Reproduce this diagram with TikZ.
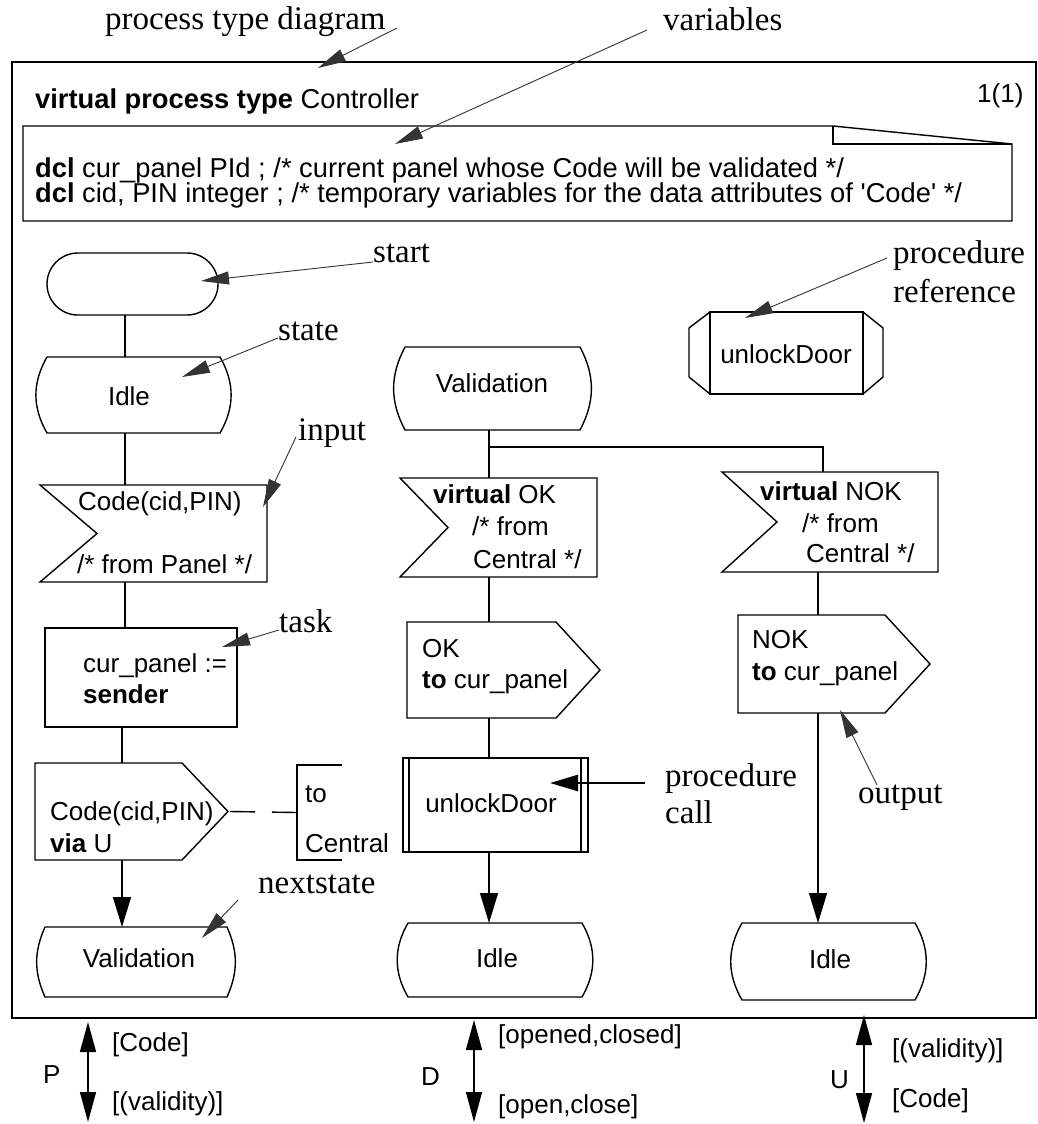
\documentclass[tikz,border=0pt]{standalone}
\usepackage{fontspec}
\setmainfont{Liberation Serif}
\setsansfont{Liberation Sans}
\usetikzlibrary{arrows.meta}

% SDL symbol outlines drawn around invisible nodes
\newcommand\statesym[2]{\draw[symline] (#1.north west) -- (#1.north east) to[bend left=#2] (#1.south east) -- (#1.south west) to[bend left=#2] (#1.north west);}
\newcommand\inputsym[2]{\draw[symline] (#1.north west) -- (#1.north east) -- (#1.south east) -- (#1.south west) -- ([xshift=#2]#1.west) -- cycle;}
\newcommand\outputsym[2]{\draw[symline] (#1.north west) -- ([xshift=-#2]#1.north east) -- (#1.east) -- ([xshift=-#2]#1.south east) -- (#1.south west) -- cycle;}

\begin{document}
\begin{tikzpicture}[x=1pt,y=-1pt,
  sym/.style 2 args={inner sep=0pt,outer sep=0pt,minimum width=#1,minimum height=#2},
  symline/.style={line width=1.4pt},
  flowarrow/.style={line width=1.4pt,-{Triangle[length=30pt,width=18pt]}},
  note/.style={line width=0.9pt,draw=black!80,-{Triangle[length=28pt,width=13pt]}},
  callnote/.style={line width=2.6pt,-{Triangle[length=28pt,width=16pt]}},
  chan/.style={line width=1.4pt,{Triangle[length=30pt,width=16pt]}-{Triangle[length=30pt,width=16pt]}},
  lbl/.style={font=\sffamily\fontsize{26}{26}\selectfont,inner sep=0pt,anchor=base west},
  lblw/.style={lbl,font=\sffamily\fontsize{27.3}{27}\selectfont},
  lblc/.style={lbl,anchor=base},
  ann/.style={font=\rmfamily\fontsize{33}{33}\selectfont,inner sep=0pt,anchor=base west}]
\useasboundingbox (0,0) rectangle (1038,1124);
\fill[white] (0,0) rectangle (1038,1124);

% diagram frame and heading
\node[sym={1024pt}{956pt},draw,line width=2pt] (frame) at (524,540) {};
\node[lblw] (title) at (35,108) {\textbf{virtual process type} Controller};
\node[lbl] (page) at (977,102) {1(1)};

% text symbol with declarations
\node[sym={989pt}{95pt}] (dcl) at (517.5,173.5) {};
\draw[symline] (dcl.north west) -- ([xshift=-179pt]dcl.north east) -- ([yshift=-18pt]dcl.north east) -- (dcl.south east) -- (dcl.south west) -- cycle;
\draw[symline] ([xshift=-179pt]dcl.north east) -- ++(0,18) -- ([yshift=-18pt]dcl.north east);
\node[lblw] (dclA) at (35,177) {\textbf{dcl} cur\_panel PId ; /* current panel whose Code will be validated */};
\node[lblw] (dclB) at (35,202) {\textbf{dcl} cid, PIN integer ; /* temporary variables for the data attributes of \textquotesingle Code\textquotesingle{} */};

% column guides
\coordinate (colA) at (125,0);
\coordinate (colAA) at (122,0);
\coordinate (colB) at (489,0);
\coordinate (colC) at (818,0);
\coordinate (colCb) at (823,0);

% left transition
\node[sym={171pt}{62pt},draw,symline,rounded corners=31pt] (start) at (132.5,284) {};
\node[sym={173pt}{76pt}] (idleA) at (133.5,395) {};
\statesym{idleA}{30}
\node[lblc] (idleAt) at (129,405) {Idle};

\node[sym={227pt}{97pt}] (inA) at (153.5,533.5) {};
\inputsym{inA}{57pt}
\node[lbl] (inAt1) at (78,510) {Code(cid,PIN)};
\node[lbl] (inAt2) at (77,573) {/* from Panel */};

\node[sym={192pt}{99pt},draw,symline] (task) at (141,677.5) {};
\node[lbl] (taskt1) at (83,672) {cur\_panel :=};
\node[lbl] (taskt2) at (83,703) {\textbf{sender}};

\node[sym={193pt}{97pt}] (outA) at (131.5,811.5) {};
\outputsym{outA}{46pt}
\node[lbl] (outAt1) at (50,820) {Code(cid,PIN)};
\node[lbl] (outAt2) at (50,852) {\textbf{via} U};

\node[sym={45pt}{95pt}] (cmt) at (319.5,812.5) {};
\draw[symline] (cmt.north east) -- (cmt.north west) -- (cmt.south west) -- (cmt.south east);
\node[lbl] (cmtt1) at (305,802) {to};
\node[lbl] (cmtt2) at (305,852) {Central};

\node[sym={182pt}{70pt}] (valA) at (136,962) {};
\statesym{valA}{24}
\node[lblc] (valAt) at (139,967) {Validation};

\draw[symline] (start.south -| colA) -- (idleA.north -| colA);
\draw[symline] (idleA.south -| colA) -- (inA.north -| colA);
\draw[symline] (inA.south -| colA) -- (task.north -| colA);
\draw[symline] (task.south -| colAA) -- (outA.north -| colAA);
\draw[flowarrow] (outA.south -| colAA) -- (valA.north -| colAA);
\draw[symline,dash pattern=on 25pt off 17pt] ([xshift=2pt]outA.east) -- (cmt.west);

% middle transition
\node[sym={175pt}{83pt}] (valB) at (492.5,388.5) {};
\statesym{valB}{28}
\node[lblc] (valBt) at (492,392) {Validation};

\node[sym={197pt}{99pt}] (inB) at (498.5,527.5) {};
\inputsym{inB}{48pt}
\node[lbl] (inBt1) at (433,503) {\textbf{virtual} OK};
\node[lbl] (inBt2) at (472,535) {/* from};
\node[lbl] (inBt3) at (473,568) {Central */};

\node[sym={193pt}{96pt}] (outB) at (503.5,670) {};
\outputsym{outB}{44pt}
\node[lbl] (outBt1) at (422,657) {OK};
\node[lbl] (outBt2) at (422,688) {\textbf{to} cur\_panel};

\node[sym={185pt}{94pt},draw,symline] (call) at (495.5,805) {};
\draw[symline] ([xshift=6pt]call.north west) -- ([xshift=6pt]call.south west);
\draw[symline] ([xshift=-7pt]call.north east) -- ([xshift=-7pt]call.south east);
\node[lblc] (callt) at (491,812) {unlockDoor};

\node[sym={174pt}{74pt}] (idleB) at (495,960) {};
\statesym{idleB}{30}
\node[lblc] (idleBt) at (497,967) {Idle};

% right transition and procedure reference
\node[sym={153pt}{82pt},draw,symline] (ref) at (786.5,353) {};
\draw[symline] (ref.north west) -- ++(-21,16) -- ++(0,49) -- (ref.south west);
\draw[symline] (ref.north east) -- ++(20,16) -- ++(0,49) -- (ref.south east);
\node[lblc] (reft) at (786,363) {unlockDoor};

\node[sym={216pt}{100pt}] (inC) at (830,522) {};
\inputsym{inC}{55pt}
\node[lbl] (inCt1) at (760,500) {\textbf{virtual} NOK};
\node[lbl] (inCt2) at (802,532) {/* from};
\node[lbl] (inCt3) at (806,562) {Central */};

\node[sym={192pt}{98pt}] (outC) at (834,664) {};
\outputsym{outC}{45pt}
\node[lbl] (outCt1) at (752,648) {NOK};
\node[lbl] (outCt2) at (752,680) {\textbf{to} cur\_panel};

\node[sym={173pt}{77pt}] (idleC) at (828.5,961.5) {};
\statesym{idleC}{30}
\node[lblc] (idleCt) at (830,968) {Idle};

% middle and right connectors
\coordinate (fork) at (489,447);
\draw[symline] (valB.south -| colB) -- (inB.north -| colB);
\draw[symline] (fork) -| (colCb |- inC.north);
\draw[symline] (inB.south -| colB) -- (outB.north -| colB);
\draw[symline] (outB.south -| colB) -- (call.north -| colB);
\draw[flowarrow] (call.south -| colB) -- (idleB.north -| colB);
\draw[symline] (inC.south -| colC) -- (outC.north -| colC);
\draw[flowarrow] (outC.south -| colC) -- (idleC.north -| colC);

% annotations
\node[ann] (aPtd) at (105,30) {process type diagram};
\coordinate (aPtdS) at (397,28); \coordinate (aPtdT) at (318,68);
\draw[note] (aPtdS) -- (aPtdT);
\node[ann] (aVar) at (663,31) {variables};
\coordinate (aVarS) at (647,30); \coordinate (aVarT) at (395,144);
\draw[note] (aVarS) -- (aVarT);
\node[ann] (aStart) at (373,262) {start};
\coordinate (aStartT) at (201,281);
\draw[note] (aStart.base west) -- (aStartT);
\node[ann] (aState) at (278,340) {state};
\coordinate (aStateT) at (182,377);
\draw[note] ([yshift=2pt]aState.base west) -- (aStateT);
\node[ann] (aInput) at (298,440) {input};
\coordinate (aInputS) at (296,437); \coordinate (aInputT) at (263,507);
\draw[note] (aInputS) -- (aInputT);
\node[ann] (aTask) at (279,632) {task};
\coordinate (aTaskT) at (222,647);
\draw[note] ([yshift=2pt]aTask.base west) -- (aTaskT);
\node[ann] (aNext) at (258,893) {nextstate};
\coordinate (aNextS) at (238,900); \coordinate (aNextT) at (202,938);
\draw[note] (aNextS) -- (aNextT);
\node[ann] (aRef1) at (893,263) {procedure};
\node[ann] (aRef2) at (893,302) {reference};
\coordinate (aRefS) at (887,258); \coordinate (aRefT) at (745,318);
\draw[note] (aRefS) -- (aRefT);
\node[ann] (aCall1) at (665,786) {procedure};
\node[ann] (aCall2) at (665,823) {call};
\coordinate (aCallS) at (645,783); \coordinate (aCallT) at (550,783);
\draw[callnote] (aCallS) -- (aCallT);
\node[ann] (aOut) at (858,803) {output};
\coordinate (aOutS) at (877,785); \coordinate (aOutT) at (840,710);
\draw[note] (aOutS) -- (aOutT);

% channels leaving the frame
\coordinate (chP) at (88,1122); \coordinate (chD) at (474,1122); \coordinate (chU) at (864,1123);
\draw[chan] (frame.south -| chP) ++(0,4) -- (chP);
\draw[chan] (frame.south -| chD) ++(0,2) -- (chD);
\draw[chan] (frame.south -| chU) ++(0,-3) -- (chU);
\node[lbl] (pP) at (43,1083) {P};
\node[lbl] (pP1) at (112,1051) {[Code]};
\node[lbl] (pP2) at (112,1110) {[(validity)]};
\node[lbl] (pD) at (421,1085) {D};
\node[lbl] (pD1) at (498,1043) {[opened,closed]};
\node[lbl] (pD2) at (498,1113) {[open,close]};
\node[lbl] (pU) at (830,1088) {U};
\node[lbl] (pU1) at (892,1057) {[(validity)]};
\node[lbl] (pU2) at (892,1107) {[Code]};
\end{tikzpicture}
\end{document}
